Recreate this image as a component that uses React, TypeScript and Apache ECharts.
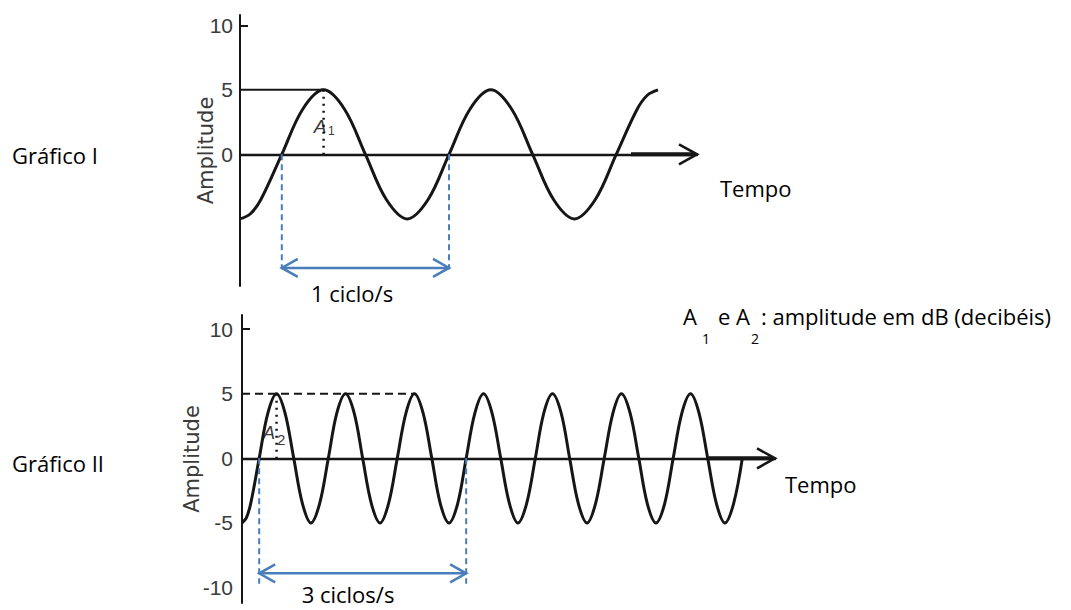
import React, { useEffect, useRef } from "react";
import * as echarts from "echarts";

// ---- Gráfico I (1 ciclo/s): time in s, amplitude in dB ----
const TIME_I = [
  0, 0.0625, 0.125, 0.25, 0.375, 0.5, 0.625, 0.75, 0.875,
  1, 1.125, 1.25, 1.375, 1.5, 1.625, 1.75, 1.875,
  2, 2.125, 2.25, 2.375, 2.4375, 2.5,
];
const AMP_I = [
  -5, -4.6, -3.5, 0, 3.5, 5, 3.5, 0, -3.5,
  -5, -3.5, 0, 3.5, 5, 3.5, 0, -3.5,
  -5, -3.5, 0, 3.5, 4.6, 5,
];

// ---- Gráfico II (3 ciclos/s) ----
const TIME_II = [
  0, 0.021, 0.042, 0.083, 0.125, 0.167, 0.208, 0.25, 0.292,
  0.333, 0.375, 0.417, 0.458, 0.5, 0.542, 0.583, 0.625,
  0.667, 0.708, 0.75, 0.792, 0.833, 0.875, 0.917, 0.958,
  1, 1.042, 1.083, 1.125, 1.167, 1.208, 1.25, 1.292,
  1.333, 1.375, 1.417, 1.458, 1.5, 1.542, 1.583, 1.625,
  1.667, 1.708, 1.75, 1.792, 1.833, 1.875, 1.917, 1.958,
  2, 2.042, 2.083, 2.125, 2.167, 2.208, 2.25, 2.292,
  2.333, 2.375, 2.417,
];
const AMP_II = [
  -5, -4.6, -3.5, 0, 3.5, 5, 3.5, 0, -3.5,
  -5, -3.5, 0, 3.5, 5, 3.5, 0, -3.5,
  -5, -3.5, 0, 3.5, 5, 3.5, 0, -3.5,
  -5, -3.5, 0, 3.5, 5, 3.5, 0, -3.5,
  -5, -3.5, 0, 3.5, 5, 3.5, 0, -3.5,
  -5, -3.5, 0, 3.5, 5, 3.5, 0, -3.5,
  -5, -3.5, 0, 3.5, 5, 3.5, 0, -3.5,
  -5, -3.5, 0,
];

// axis ranges and tick labels
const Y_RANGE_I = [-10.2, 10.8];
const Y_RANGE_II = [-11.2, 11.1];
const X_END_I = 2.733;
const X_END_II = 2.575;
const Y_LABELS_I = [0, 5, 10];
const Y_LABELS_II = [-10, -5, 0, 5, 10];
const Y_TICKS = [10];

// annotations (data units)
const AMPLITUDE = 5;
const PEAK_I = 0.5; // first crest, Gráfico I
const PEAK_II = 0.167; // first crest, Gráfico II
const REF_LINE_I = [0, 0.5]; // solid line at 5 up to 1st crest
const REF_LINE_II = [0, 0.833]; // dashed line at 5 up to 3rd crest
const CYCLE_I = [0.25, 1.25, -8.8, -8.9]; // x0, x1, arrow level, guide bottom
const CYCLE_II = [0.083, 1.083, -8.9, -9.7];

const BLUE = "#4a7ebb";
const INK = "#161616";
const GREY = "#3a3a3a";
const SANS = "'Open Sans', 'Noto Sans', sans-serif";
const HELV = "'Liberation Sans', Arial, sans-serif";

const toPairs = (xs: number[], ys: number[]) => xs.map((x, i) => [x, ys[i]]);

const dimensionRender = (_params: any, api: any) => {
  const x0 = api.value(0);
  const x1 = api.value(1);
  const ya = api.value(2);
  const yb = api.value(3);
  const a0 = api.coord([x0, ya]);
  const a1 = api.coord([x1, ya]);
  const t0 = api.coord([x0, 0]);
  const b0 = api.coord([x0, yb]);
  const t1 = api.coord([x1, 0]);
  const b1 = api.coord([x1, yb]);
  const dashed = { stroke: BLUE, lineWidth: 2, lineDash: [6, 4], fill: "none" };
  const solid = { stroke: BLUE, lineWidth: 2.5, fill: "none" };
  const L = 16;
  const H = 9;
  return {
    type: "group",
    children: [
      { type: "line", shape: { x1: t0[0], y1: t0[1], x2: b0[0], y2: b0[1] }, style: dashed },
      { type: "line", shape: { x1: t1[0], y1: t1[1], x2: b1[0], y2: b1[1] }, style: dashed },
      { type: "line", shape: { x1: a0[0], y1: a0[1], x2: a1[0], y2: a1[1] }, style: solid },
      {
        type: "polyline",
        shape: { points: [[a0[0] + L, a0[1] - H], [a0[0], a0[1]], [a0[0] + L, a0[1] + H]] },
        style: solid,
      },
      {
        type: "polyline",
        shape: { points: [[a1[0] - L, a1[1] - H], [a1[0], a1[1]], [a1[0] - L, a1[1] + H]] },
        style: solid,
      },
    ],
  };
};

const axisArrowRender = (_params: any, api: any) => {
  const p = api.coord([api.value(0), api.value(1)]);
  const st = { stroke: INK, lineWidth: 2.6, fill: "none" };
  return {
    type: "group",
    children: [
      { type: "line", shape: { x1: p[0] - 66, y1: p[1], x2: p[0] - 3, y2: p[1] }, style: { stroke: INK, lineWidth: 4 } },
      {
        type: "polyline",
        shape: { points: [[p[0] - 18, p[1] - 10], [p[0], p[1]], [p[0] - 18, p[1] + 10]] },
        style: st,
      },
    ],
  };
};

const yAxisCommon = (labels: number[], margin: number, nameGap: number) => ({
  type: "value",
  name: "Amplitude",
  nameLocation: "middle",
  nameRotate: 90,
  nameGap,
  nameMoveOverlap: false,
  nameTextStyle: { fontFamily: "'DejaVu Sans', sans-serif", fontSize: 21, color: GREY },
  axisLine: { show: true, onZero: false, lineStyle: { color: INK, width: 2 } },
  axisTick: { show: true, inside: true, length: 8, customValues: Y_TICKS, lineStyle: { color: INK, width: 2 } },
  axisLabel: { show: true, customValues: labels, margin, fontFamily: HELV, fontSize: 21, color: GREY },
  splitLine: { show: false },
});

const xAxisCommon = (max: number, gridIndex: number) => ({
  type: "value",
  gridIndex,
  min: 0,
  max,
  axisLine: { show: true, onZero: true, lineStyle: { color: INK, width: 2.4 } },
  axisTick: { show: false },
  axisLabel: { show: false },
  splitLine: { show: false },
});

const text = (x: number, y: number, s: string, extra: any = {}) => ({
  type: "text",
  x,
  y,
  style: {
    text: s,
    fontFamily: SANS,
    fontSize: 22,
    fill: "#000",
    textVerticalAlign: "middle",
    ...extra,
  },
});

export default function App() {
  const ref = useRef<HTMLDivElement>(null);
  useEffect(() => {
    if (!ref.current) return;
    const chart = echarts.init(ref.current, null, { renderer: "svg" });
    const line = (data: number[][], gi: number, lineStyle: any, z = 3) => ({
      type: "line",
      xAxisIndex: gi,
      yAxisIndex: gi,
      data,
      showSymbol: false,
      symbol: "none",
      silent: true,
      z,
      lineStyle,
    });
    chart.setOption({
      animation: false,
      backgroundColor: "#fff",
      grid: [
        { left: 240, top: 15, width: 457, height: 271 },
        { left: 242, top: 315, width: 533, height: 288 },
      ],
      xAxis: [xAxisCommon(X_END_I, 0), xAxisCommon(X_END_II, 1)],
      yAxis: [
        { ...yAxisCommon(Y_LABELS_I, 7, 24), gridIndex: 0, min: Y_RANGE_I[0], max: Y_RANGE_I[1] },
        { ...yAxisCommon(Y_LABELS_II, 9, 40), gridIndex: 1, min: Y_RANGE_II[0], max: Y_RANGE_II[1] },
      ],
      series: [
        { ...line(toPairs(TIME_I, AMP_I), 0, { color: INK, width: 3 }), smooth: 0.35, name: "Gráfico I" },
        { ...line(toPairs(TIME_II, AMP_II), 1, { color: INK, width: 3 }), smooth: 0.35, name: "Gráfico II" },
        line(REF_LINE_I.map((x) => [x, AMPLITUDE]), 0, { color: INK, width: 2 }),
        line([[PEAK_I, AMPLITUDE], [PEAK_I, 0]], 0, { color: INK, width: 2.5, type: [2, 5] }),
        line(REF_LINE_II.map((x) => [x, AMPLITUDE]), 1, { color: INK, width: 2, type: [8, 5] }),
        line([[PEAK_II, AMPLITUDE], [PEAK_II, 0]], 1, { color: INK, width: 2.5, type: [2, 5] }),
        {
          type: "custom",
          xAxisIndex: 0,
          yAxisIndex: 0,
          renderItem: dimensionRender,
          data: [CYCLE_I],
          silent: true,
          z: 4,
        },
        {
          type: "custom",
          xAxisIndex: 1,
          yAxisIndex: 1,
          renderItem: dimensionRender,
          data: [CYCLE_II],
          silent: true,
          z: 4,
        },
        {
          type: "custom",
          xAxisIndex: 0,
          yAxisIndex: 0,
          renderItem: axisArrowRender,
          data: [[X_END_I, 0]],
          silent: true,
          z: 5,
        },
        {
          type: "custom",
          xAxisIndex: 1,
          yAxisIndex: 1,
          renderItem: axisArrowRender,
          data: [[X_END_II, 0]],
          silent: true,
          z: 5,
        },
      ],
      graphic: [
        text(12, 155, "Gráfico I"),
        text(12, 463, "Gráfico II"),
        text(720, 188, "Tempo"),
        text(785, 484, "Tempo"),
        text(352, 293, "1 ciclo/s", { textAlign: "center" }),
        text(348, 594, "3 ciclos/s", { textAlign: "center" }),
        text(683, 316, "A"),
        text(702, 338, "1", { fontSize: 14 }),
        text(718, 316, "e A"),
        text(751, 338, "2", { fontSize: 14 }),
        text(761, 316, ": amplitude em dB (decibéis)"),
        text(320, 126, "A", { fontFamily: HELV, fontStyle: "italic", fontSize: 19, fill: GREY, textAlign: "center" }),
        text(328, 131, "1", { fontFamily: HELV, fontSize: 12, fill: GREY }),
        text(269, 433, "A", { fontFamily: HELV, fontStyle: "italic", fontSize: 18, fill: GREY, textAlign: "center" }),
        text(277, 439, "2", { fontFamily: HELV, fontSize: 15, fill: GREY }),
      ],
    });
    return () => chart.dispose();
  }, []);
  return (
    <div
      ref={ref}
      style={{ position: "fixed", left: 0, top: 0, width: 1071, height: 610 }}
    />
  );
}
